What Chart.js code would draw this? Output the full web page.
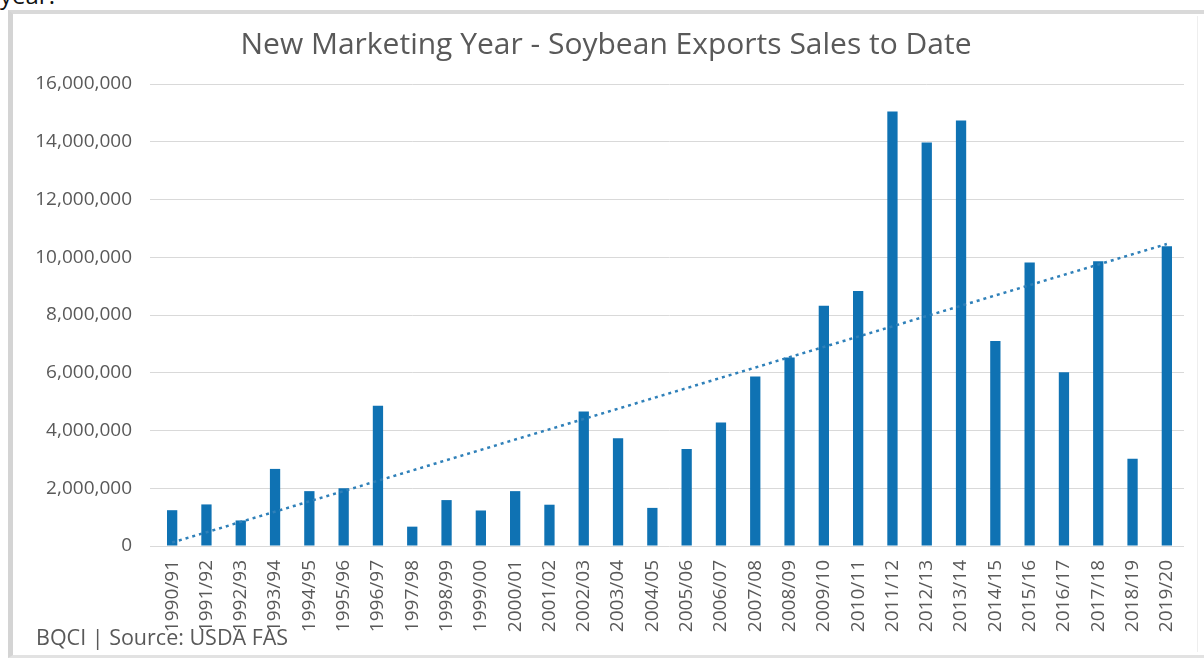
<!DOCTYPE html>
<html>
<head>
<meta charset="utf-8">
<script src="https://cdn.jsdelivr.net/npm/chart.js@4.4.1/dist/chart.umd.min.js"></script>
<style>
  html, body { margin: 0; padding: 0; background: #ffffff; }
  body { width: 1204px; height: 658px; position: relative; overflow: hidden; font-family: "Open Sans", sans-serif; }
  #frame { position: absolute; left: 8px; top: 10px; width: 1196px; height: 641px; border-top: 4px solid #d9d9d9; border-left: 5px solid #d4d4d4; border-bottom: 3px solid #e2e2e2; background: #fff; box-sizing: content-box; }
  #rightline { position: absolute; left: 1197px; top: 16px; width: 1px; height: 636px; background: #eeeeee; }
  #chart { position: absolute; left: 0; top: 0; }
  #year { position: absolute; left: 0px; top: -17px; font-size: 24px; line-height: 24px; color: #111; font-family: "Open Sans", sans-serif; }
  #source { position: absolute; left: 36px; top: 622px; font-size: 21.5px; line-height: 30px; color: #595959; font-family: "Open Sans", sans-serif; }
</style>
</head>
<body>
<div id="year">year.</div>
<div id="frame"></div>
<div id="rightline"></div>
<canvas id="chart" width="1204" height="658"></canvas>
<div id="source">BQCI | Source: USDA FAS</div>
<script>
const categories = ["1990/91","1991/92","1992/93","1993/94","1994/95","1995/96","1996/97","1997/98","1998/99","1999/00",
  "2000/01","2001/02","2002/03","2003/04","2004/05","2005/06","2006/07","2007/08","2008/09","2009/10",
  "2010/11","2011/12","2012/13","2013/14","2014/15","2015/16","2016/17","2017/18","2018/19","2019/20"];
const salesToDate = [1240000,1440000,885000,2670000,1900000,2000000,4860000,670000,1590000,1230000,
  1900000,1430000,4660000,3730000,1320000,3360000,4280000,5870000,6530000,8320000,
  8830000,15050000,13970000,14740000,7100000,9820000,6020000,9860000,3020000,10380000];
// linear trend line endpoints (first and last category)
const trendStart = 120000;
const trendEnd = 10460000;
const trendValues = categories.map((c, i) => i === 0 ? trendStart : (i === categories.length - 1 ? trendEnd : null));
const yTicks = [0,2000000,4000000,6000000,8000000,10000000,12000000,14000000,16000000];
const chartTitle = "New Marketing Year - Soybean Exports Sales to Date";

const textColor = "#595959";
new Chart(document.getElementById("chart"), {
  data: {
    labels: categories,
    datasets: [
      {
        type: "line",
        label: "Trend",
        data: trendValues,
        spanGaps: true,
        borderColor: "#2f80b9",
        borderWidth: 2.5,
        borderDash: [3, 4],
        pointRadius: 0,
        fill: false,
        order: 0
      },
      {
        type: "bar",
        label: "Sales to date",
        data: salesToDate,
        backgroundColor: "#0f72b3",
        barPercentage: 0.3,
        categoryPercentage: 1.0,
        order: 1
      }
    ]
  },
  options: {
    responsive: false,
    animation: false,
    layout: { padding: { left: 28, right: 20, top: 0, bottom: 0 } },
    plugins: {
      legend: { display: false },
      tooltip: { enabled: false },
      title: {
        display: true,
        text: chartTitle,
        color: textColor,
        font: { family: "'Open Sans', sans-serif", size: 30, weight: "normal" },
        padding: { top: 27, bottom: 21 }
      }
    },
    scales: {
      x: {
        grid: { display: false },
        border: { display: false },
        ticks: {
          color: textColor,
          font: { family: "'Open Sans', sans-serif", size: 19 },
          minRotation: 90,
          maxRotation: 90,
          autoSkip: false,
          padding: 6
        },
        afterFit: (s) => { s.height = 112; }
      },
      y: {
        min: 0,
        max: 16000000,
        afterBuildTicks: (s) => { s.ticks = yTicks.map(v => ({ value: v })); },
        grid: { color: "#d9d9d9", lineWidth: 1, drawTicks: true, tickLength: 5, tickColor: "#d9d9d9" },
        border: { display: false },
        ticks: {
          color: textColor,
          font: { family: "'Open Sans', sans-serif", size: 19 },
          padding: 18,
          callback: (v) => Number(v).toLocaleString("en-US")
        },
        afterFit: (s) => { s.width = 127; }
      }
    }
  }
});
</script>
</body>
</html>
